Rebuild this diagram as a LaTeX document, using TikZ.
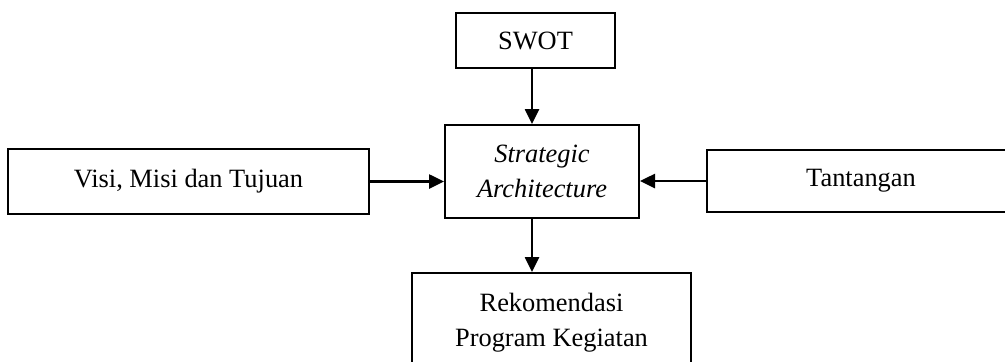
\documentclass[tikz,border=0pt]{standalone}
\usepackage{fontspec}
\setmainfont{Liberation Serif}
\usetikzlibrary{arrows.meta}

\begin{document}
\begin{tikzpicture}[x=0.5pt,y=-0.5pt,
        kotak/.style={draw,line width=1pt,inner sep=0pt,align=center,
            font=\fontsize{13.2}{17.5}\selectfont},
        panah/.style={line width=1.3pt,-{Triangle[length=7.5pt,width=7pt]}}]
            \useasboundingbox (0,0) rectangle (1005,361);

            \node[kotak,minimum width=79.5pt,minimum height=27.5pt] (swot) at (535.5,40.5) {SWOT};
            \node[kotak,minimum width=97pt,minimum height=46.5pt] (strategi) at (542,171.5) {\itshape Strategic\\\itshape Architecture};
            \node[kotak,minimum width=180.5pt,minimum height=32.5pt] (visi) at (188.5,181.5) {Visi, Misi dan Tujuan};
            \node[kotak,minimum width=154pt,minimum height=31pt] (tantangan) at (861,181) {Tantangan};
            \node[kotak,minimum width=139.5pt,minimum height=50pt] (rekomendasi) at (551.5,323) {Rekomendasi\\Program Kegiatan};

            \coordinate (jalur) at (532,0);
            \draw[panah] (swot.south -| jalur) -- (strategi.north -| jalur);
            \draw[panah] (visi.east) -- (visi.east -| strategi.west);
            \draw[panah] (tantangan.west) -- (tantangan.west -| strategi.east);
            \draw[panah] (strategi.south -| jalur) -- (rekomendasi.north -| jalur);
        \end{tikzpicture}
\end{document}
